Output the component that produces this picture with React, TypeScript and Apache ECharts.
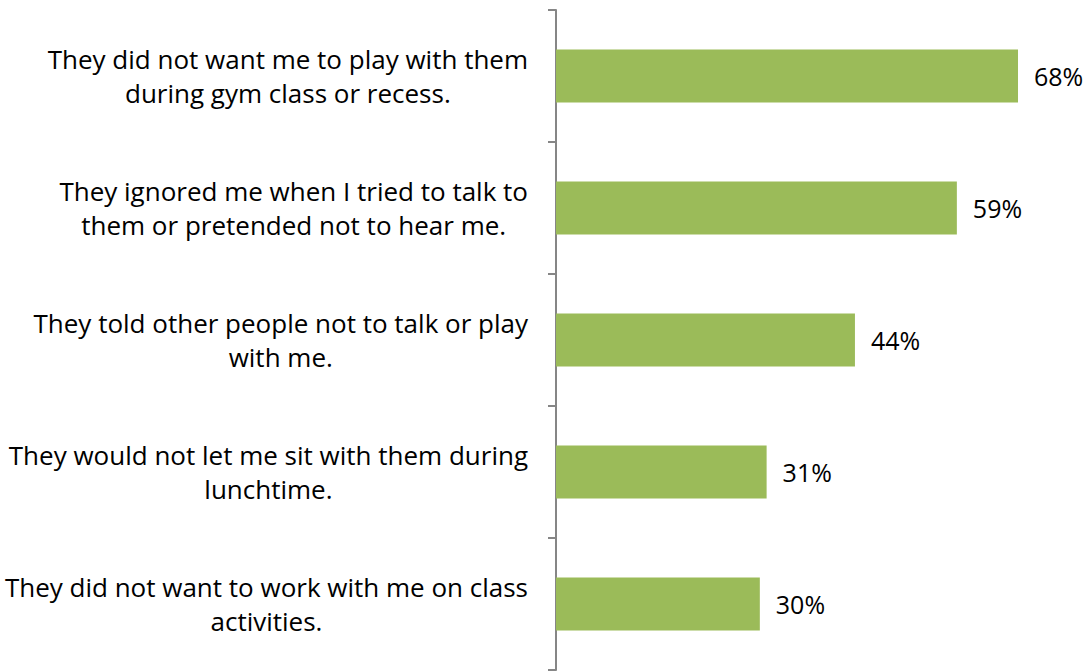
import React, { useEffect, useRef } from "react";
import * as echarts from "echarts";

const categories: string[] = [
  "They did not want me to play with them\nduring gym class or recess.",
  "They ignored me when I tried to talk to\nthem or pretended not to hear me.",
  "They told other people not to talk or play\nwith me.",
  "They would not let me sit with them during\nlunchtime.",
  "They did not want to work with me on class\nactivities.",
];
const values: number[] = [68, 59, 44, 31, 30];

const FONT = "'Open Sans', sans-serif";

export default function App() {
  const ref = useRef<HTMLDivElement>(null);
  useEffect(() => {
    if (!ref.current) return;
    const chart = echarts.init(ref.current, undefined, { renderer: "svg" });
    chart.setOption({
      animation: false,
      backgroundColor: "#ffffff",
      grid: { left: 556, top: 10, width: 475.6, height: 660, containLabel: false },
      xAxis: {
        type: "value",
        min: 0,
        max: 70,
        show: false,
      },
      yAxis: {
        type: "category",
        data: categories,
        inverse: true,
        axisLine: { show: true, lineStyle: { color: "#868686", width: 2 } },
        axisTick: { show: true, length: 8, lineStyle: { color: "#868686", width: 2 } },
        splitLine: { show: false },
        axisLabel: {
          margin: 28,
          color: "#000000",
          fontFamily: FONT,
          fontSize: 26,
          lineHeight: 34,
          formatter: (v: string) =>
            v
              .split("\n")
              .map((l) => `{a|${l}}`)
              .join("\n"),
          rich: {
            a: {
              align: "center",
              color: "#000000",
              fontFamily: FONT,
              fontSize: 26,
              lineHeight: 34,
            },
          },
        },
      },
      series: [
        {
          type: "bar",
          data: values,
          barWidth: "40%",
          itemStyle: { color: "#9BBB59" },
          label: {
            show: true,
            position: "right",
            distance: 16,
            formatter: "{c}%",
            color: "#000000",
            fontFamily: FONT,
            fontSize: 25,
          },
        },
      ],
    });
    return () => chart.dispose();
  }, []);
  return (
    <div
      ref={ref}
      style={{ position: "absolute", left: 0, top: 0, width: 1090, height: 671 }}
    />
  );
}
